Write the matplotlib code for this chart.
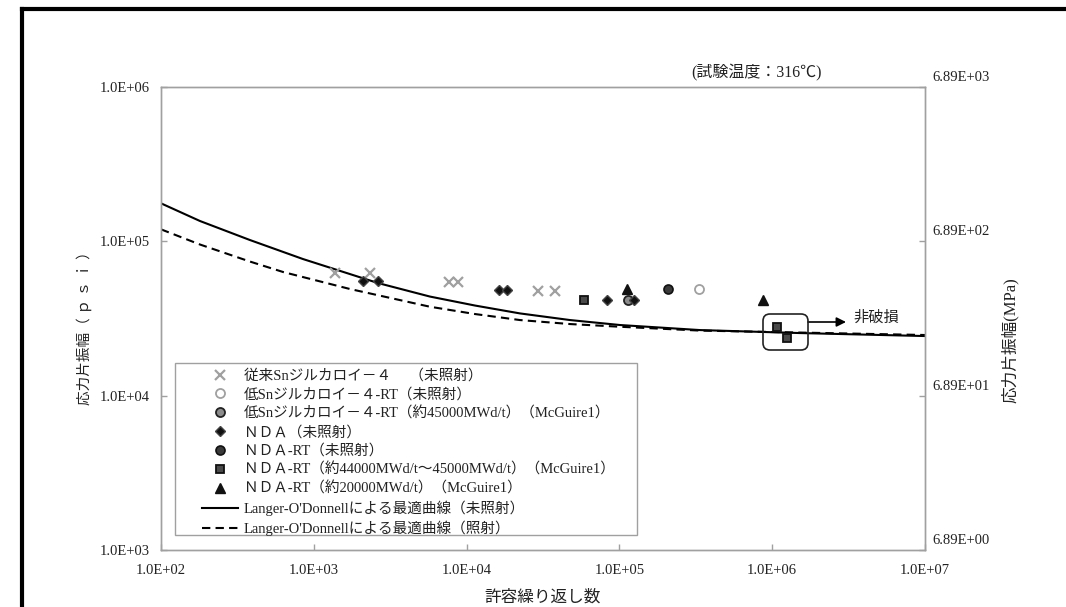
import matplotlib
matplotlib.use("Agg")
import matplotlib.pyplot as plt
import matplotlib.transforms as mtransforms
from matplotlib.patches import FancyBboxPatch, Rectangle
from matplotlib.lines import Line2D

FAM = ['Liberation Serif', 'Noto Sans CJK JP', 'DejaVu Sans']
plt.rcParams['font.family'] = FAM

# ---------------- data ----------------
conv_N = [1377, 2335, 7710, 8830, 29400, 37900]
conv_S = [62100, 62100, 54700, 54700, 47860, 47860]

lowsn_N = [333000]
lowsn_S = [48900]

lowsn_irr_N = [113800]
lowsn_irr_S = [41650]

nda_N = [2090, 2640, 16400, 18500, 82600, 124400]
nda_S = [55560, 55560, 48340, 48340, 41650, 41650]

ndart_N = [209000]
ndart_S = [48900]

ndart44_N = [58600, 1080000, 1244000]
ndart44_S = [41650, 27960, 23730]

ndart20_N = [112800, 875000]
ndart20_S = [48900, 41650]

fit_unirr_N = [100, 180, 382, 849, 2630, 5754, 11350, 22330, 47500, 100900, 336500, 1520000, 10000000]
fit_unirr_S = [176300, 135400, 101960, 76800, 53680, 43870, 38370, 34120, 30900, 28690, 26610, 25450, 24340]

fit_irr_N = [100, 180, 382, 631, 1726, 5754, 11350, 22330, 47500, 100900, 336500, 10000000]
fit_irr_S = [119600, 95350, 73960, 63240, 49090, 37690, 33800, 30900, 29110, 27960, 26400, 24720]

x_ticks = [1e2, 1e3, 1e4, 1e5, 1e6, 1e7]
x_tick_labels = ['1.0E+02', '1.0E+03', '1.0E+04', '1.0E+05', '1.0E+06', '1.0E+07']
y_ticks = [1e3, 1e4, 1e5, 1e6]
y_tick_labels = ['1.0E+03', '1.0E+04', '1.0E+05', '1.0E+06']
y2_ticks = [6.89, 68.9, 689, 6890]
y2_tick_labels = ['6.89E+00', '6.89E+01', '6.89E+02', '6.89E+03']

legend_labels = [
    "従来Snジルカロイ－４　 （未照射）",
    "低Snジルカロイ－４-RT（未照射）",
    "低Snジルカロイ－４-RT（約45000MWd/t）（McGuire1）",
    "ＮＤＡ（未照射）",
    "ＮＤＡ-RT（未照射）",
    "ＮＤＡ-RT（約44000MWd/t～45000MWd/t）（McGuire1）",
    "ＮＤＡ-RT（約20000MWd/t）（McGuire1）",
    "Langer-O'Donnellによる最適曲線（未照射）",
    "Langer-O'Donnellによる最適曲線（照射）",
]

# ---------------- figure ----------------
W, H = 1066, 607
fig = plt.figure(figsize=(W / 100, H / 100), dpi=100)
fig.patch.set_facecolor('white')

def fx(px):
    return px / W

def fy(py):
    return 1 - py / H

ax = fig.add_axes([fx(161), fy(550), (925 - 161) / W, (550 - 87) / H])
ax.set_xscale('log')
ax.set_yscale('log')
ax.set_xlim(1e2, 1e7)
ax.set_ylim(1e3, 1e6)

GRAY = '#a0a0a0'
TXT = '#222222'

h_fit1, = ax.plot(fit_unirr_N, fit_unirr_S, color='black', lw=1.5, zorder=2)
h_fit2, = ax.plot(fit_irr_N, fit_irr_S, color='black', lw=1.5,
                  linestyle=(0, (4, 2.5)), zorder=2)

h1, = ax.plot(conv_N, conv_S, linestyle='none', marker='x', ms=6.5, mew=1.6,
              color=GRAY, zorder=3)
h2, = ax.plot(lowsn_N, lowsn_S, linestyle='none', marker='o', ms=6.5, mew=1.3,
              mfc='white', mec=GRAY, zorder=3)
h3, = ax.plot(lowsn_irr_N, lowsn_irr_S, linestyle='none', marker='o', ms=6.5, mew=1.3,
              mfc='#8c8c8c', mec='#222222', zorder=3)
h4, = ax.plot(nda_N, nda_S, linestyle='none', marker='D', ms=5.5, mew=1.0,
              mfc='#111111', mec='#444444', zorder=4)
h5, = ax.plot(ndart_N, ndart_S, linestyle='none', marker='o', ms=6.5, mew=1.2,
              mfc='#3a3a3a', mec='#111111', zorder=3)
h6, = ax.plot(ndart44_N, ndart44_S, linestyle='none', marker='s', ms=6.0, mew=1.3,
              mfc='#4a4a4a', mec='#111111', zorder=3)
h7, = ax.plot(ndart20_N, ndart20_S, linestyle='none', marker='^', ms=7.0, mew=1.0,
              mfc='#111111', mec='#111111', zorder=3)

# axes styling
for side in ['left', 'right', 'top', 'bottom']:
    ax.spines[side].set_color(GRAY)
    ax.spines[side].set_linewidth(1.0)
ax.set_xticks(x_ticks)
ax.set_xticklabels(x_tick_labels)
ax.set_yticks(y_ticks)
ax.set_yticklabels(y_tick_labels)
ax.minorticks_off()
ax.tick_params(axis='x', direction='in', length=4, width=1, color=GRAY,
               labelsize=10.5, labelcolor=TXT, pad=10)
ax.tick_params(axis='y', direction='in', length=4, width=1, color=GRAY,
               labelsize=10.5, labelcolor=TXT, pad=8)

ax2 = ax.twinx()
ax2.set_yscale('log')
ax2.set_ylim(6.89, 6890)
ax2.set_yticks(y2_ticks)
ax2.set_yticklabels(y2_tick_labels)
ax2.minorticks_off()
for side in ['left', 'right', 'top', 'bottom']:
    ax2.spines[side].set_color(GRAY)
    ax2.spines[side].set_linewidth(1.0)
ax2.tick_params(axis='y', direction='in', length=4, width=1, color=GRAY,
                labelsize=10.5, labelcolor=TXT, pad=5)
off = mtransforms.ScaledTranslation(0, 0.11, fig.dpi_scale_trans)
for lab in ax2.get_yticklabels():
    lab.set_transform(lab.get_transform() + off)

# axis labels
fig.text(fx(84), fy(325), "応力片振幅（ ｐ ｓ ｉ ）", rotation=90, ha='center', va='center',
         fontsize=10.5, color=TXT)
fig.text(fx(1010), fy(340), "応力片振幅(MPa)", rotation=90, ha='center', va='center',
         fontsize=12, color=TXT)
fig.text(fx(543), fy(598), "許容繰り返し数", ha='center', va='center',
         fontsize=12, color=TXT)
fig.text(fx(756), fy(73), "(試験温度：316℃)", ha='center', va='center',
         fontsize=11.5, color=TXT)

# non-failure box + arrow
inch = fig.dpi_scale_trans
box = FancyBboxPatch((763 / 100, (H - 350) / 100), 45 / 100, 36 / 100,
                     boxstyle="round,pad=0,rounding_size=0.07",
                     transform=inch, fill=False, ec='#222222', lw=1.2, zorder=5)
fig.add_artist(box)
ax.annotate('', xy=(846 / 100, (H - 322) / 100), xycoords=inch,
            xytext=(808 / 100, (H - 322) / 100), textcoords=inch,
            arrowprops=dict(arrowstyle='-|>', color='black', lw=1.2, mutation_scale=14,
                            shrinkA=0, shrinkB=0), annotation_clip=False)
fig.text(fx(853), fy(318), "非破損", ha='left', va='center', fontsize=11, color=TXT)

# legend (frame drawn separately)
frame = Rectangle((fx(175), fy(535)), fx(637) - fx(175), fy(363) - fy(535),
                  transform=fig.transFigure, fill=True, fc='white', ec=GRAY, lw=1.0, zorder=6)
fig.add_artist(frame)
leg = fig.legend([h1, h2, h3, h4, h5, h6, h7, h_fit1, h_fit2], legend_labels,
                 loc='upper left', bbox_to_anchor=(fx(202), fy(369)),
                 frameon=False, borderpad=0, borderaxespad=0,
                 handlelength=2.47, handletextpad=0.4, labelspacing=0.33,
                 numpoints=1, prop={'family': FAM, 'size': 10.5})
leg.set_zorder(7)
for t in leg.get_texts():
    t.set_color(TXT)

# figure border
fig.add_artist(Line2D([fx(22), fx(22)], [0, fy(9)], color='black', lw=3.0,
                      transform=fig.transFigure, solid_capstyle='projecting'))
fig.add_artist(Line2D([fx(22), 1], [fy(9), fy(9)], color='black', lw=3.0,
                      transform=fig.transFigure, solid_capstyle='projecting'))

fig.savefig('out.png', dpi=100)
